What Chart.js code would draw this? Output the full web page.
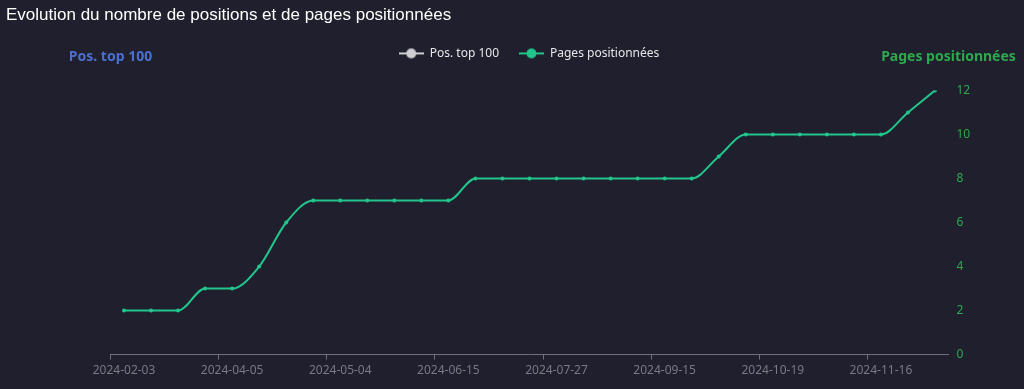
<!DOCTYPE html>
<html>
<head>
<meta charset="utf-8">
<script src="https://cdn.jsdelivr.net/npm/chart.js@4.4.1/dist/chart.umd.min.js"></script>
<style>
  html, body { margin: 0; padding: 0; background: #1f1f2d; }
  #wrap { width: 1024px; height: 389px; }
</style>
</head>
<body>
<div id="wrap"><canvas id="chart"></canvas></div>
<script>
// ---- data ----
const dates = [
  '2024-02-03','2024-02-17','2024-03-02','2024-03-16',
  '2024-04-05','2024-04-13','2024-04-20','2024-04-27',
  '2024-05-04','2024-05-18','2024-05-25','2024-06-01',
  '2024-06-15','2024-06-22','2024-07-06','2024-07-20',
  '2024-07-27','2024-08-10','2024-08-24','2024-09-07',
  '2024-09-15','2024-09-21','2024-09-28','2024-10-05',
  '2024-10-19','2024-10-26','2024-11-02','2024-11-09',
  '2024-11-16','2024-11-23','2024-11-30'
];
const posTop100 = dates.map(() => null);
const pagesPositionnees = [
  2, 2, 2, 3, 3, 4, 6, 7, 7, 7, 7, 7, 7,
  8, 8, 8, 8, 8, 8, 8, 8, 8,
  9, 10, 10, 10, 10, 10, 10, 11, 12
];
const pagesTicks = [0, 2, 4, 6, 8, 10, 12];

const GREEN_LINE = '#22c58b';
const GREEN_AXIS = '#2ea84f';
const BLUE_AXIS = '#4b6fd1';
const GREY = '#6e7079';

// legend icon: line with a circle in the middle
function legendIcon(color) {
  const c = document.createElement('canvas');
  c.width = 25; c.height = 12;
  const g = c.getContext('2d');
  g.strokeStyle = color;
  g.lineWidth = 2;
  g.beginPath(); g.moveTo(0, 6); g.lineTo(25, 6); g.stroke();
  g.fillStyle = color;
  g.beginPath(); g.arc(12.5, 6, 5, 0, Math.PI * 2); g.fill();
  return c;
}

// axis names drawn horizontally above each y axis
const axisNames = {
  id: 'axisNames',
  afterLayout(chart) {
    // legend sits a little right of the canvas centre in the reference
    chart.legend.left += 14;
    chart.legend.right += 14;
  },
  afterDraw(chart) {
    const ctx = chart.ctx;
    const area = chart.chartArea;
    ctx.save();
    ctx.font = 'bold 14px "Noto Sans", sans-serif';
    ctx.textAlign = 'center';
    ctx.textBaseline = 'middle';
    ctx.fillStyle = BLUE_AXIS;
    ctx.fillText('Pos. top 100', area.left, 57);
    ctx.fillStyle = GREEN_AXIS;
    ctx.fillText('Pages positionnées', area.right, 57);
    ctx.restore();
  }
};

Chart.defaults.font.family = '"Noto Sans", sans-serif';
Chart.defaults.font.size = 12;

new Chart(document.getElementById('chart'), {
  type: 'line',
  data: {
    labels: dates,
    datasets: [{
      label: 'Pos. top 100',
      data: posTop100,
      yAxisID: 'y1',
      borderColor: '#cfcfd4',
      backgroundColor: '#cfcfd4'
    }, {
      label: 'Pages positionnées',
      data: pagesPositionnees,
      yAxisID: 'y',
      borderColor: GREEN_LINE,
      backgroundColor: GREEN_LINE,
      borderWidth: 2,
      pointRadius: 2,
      pointHoverRadius: 4,
      pointBackgroundColor: GREEN_LINE,
      pointBorderWidth: 0,
      cubicInterpolationMode: 'monotone'
    }]
  },
  options: {
    responsive: true,
    maintainAspectRatio: false,
    animation: false,
    layout: { padding: { top: 0, bottom: 7, left: 6, right: 0 } },
    plugins: {
      title: {
        display: true,
        text: 'Evolution du nombre de positions et de pages positionnées',
        align: 'start',
        color: '#ffffff',
        font: { family: '"Liberation Sans", Arial, sans-serif', size: 17, weight: 'normal' },
        padding: { top: 5, bottom: 2 }
      },
      subtitle: {
        display: true,
        text: ' ',
        weight: 500,
        font: { size: 10 },
        padding: { top: 0, bottom: 9 }
      },
      legend: {
        display: true,
        labels: {
          color: '#e6e6ea',
          usePointStyle: true,
          pointStyleWidth: 25,
          padding: 20,
          generateLabels(chart) {
            return chart.data.datasets.map((ds, i) => ({
              text: ds.label,
              fontColor: '#e6e6ea',
              pointStyle: legendIcon(i === 0 ? '#cfcfd4' : GREEN_LINE),
              lineWidth: 0,
              strokeStyle: 'transparent',
              fillStyle: 'transparent',
              hidden: false,
              datasetIndex: i
            }));
          }
        }
      },
      tooltip: { enabled: true }
    },
    scales: {
      x: {
        offset: true,
        grid: {
          offset: true,
          drawOnChartArea: false,
          drawTicks: true,
          tickLength: 5,
          color: ctx => (ctx.index % 4 === 0 || ctx.index === dates.length) ? GREY : 'transparent'
        },
        border: { display: true, color: GREY },
        ticks: {
          color: '#7a7a85',
          autoSkip: false,
          maxRotation: 0,
          minRotation: 0,
          padding: 4,
          callback(value, index) { return index % 4 === 0 ? dates[index] : ''; }
        }
      },
      y1: {
        position: 'left',
        display: true,
        grid: { display: false, drawTicks: false },
        border: { display: false },
        ticks: { display: false },
        afterFit(scale) { scale.width = 104.5; }
      },
      y: {
        position: 'right',
        min: 0,
        max: 12,
        afterBuildTicks(scale) { scale.ticks = pagesTicks.map(v => ({ value: v })); },
        grid: { display: false, drawTicks: false },
        border: { display: false },
        ticks: { color: GREEN_AXIS, padding: 8 },
        afterFit(scale) { scale.width = 75.5; }
      }
    }
  },
  plugins: [axisNames]
});
</script>
</body>
</html>
